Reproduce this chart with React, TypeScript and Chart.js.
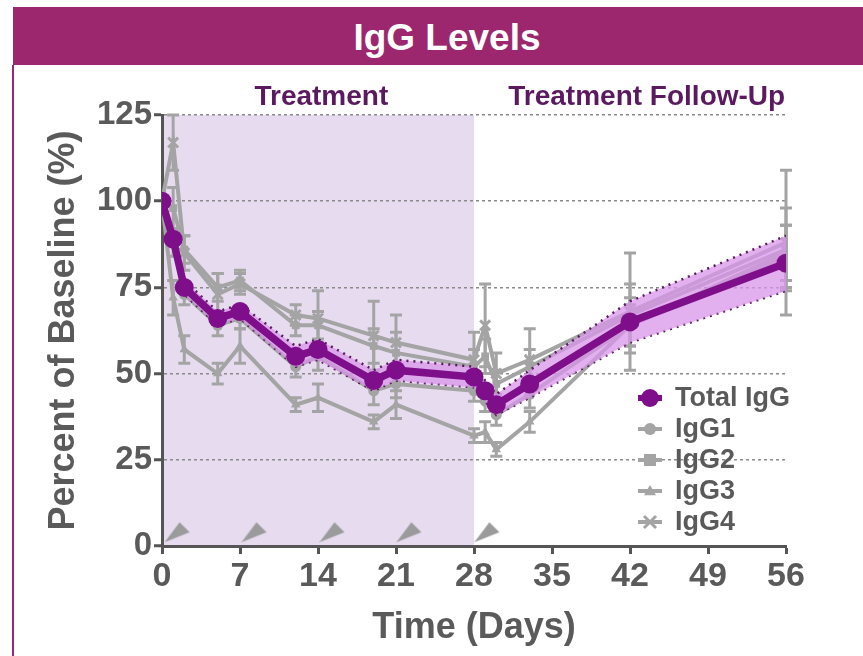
import React, { useEffect, useRef } from "react";
import { Chart, registerables } from "chart.js";
Chart.register(...registerables);

// ---------- data ----------
const days = [0, 1, 2, 5, 7, 12, 14, 19, 21, 28, 29, 30, 33, 42, 56];
const totalIgG = [100, 89, 75, 66, 68, 55, 57, 48, 51, 49, 45, 41, 47, 65, 82];
const totalErr = [0, 2, 2, 2, 2, 3, 3, 3, 3, 3, 3, 3, 4, 6, 8];
const igg1 = [100, 88, 73, 64, 66, 52, 55, 45, 47, 45, 42, 38, 44, 64, 84];
const igg1Err = [0, 4, 3, 3, 3, 3, 4, 4, 4, 3, 3, 3, 4, 8, 9];
const igg2 = [100, 98, 86, 75, 77, 64, 64, 58, 56, 52, 55, 47, 52, 67, 86];
const igg2Err = [0, 6, 4, 4, 3, 3, 4, 5, 6, 5, 5, 4, 5, 9, 12];
const igg3 = [100, 72, 57, 50, 58, 41, 43, 36, 41, 32, 33, 28, 36, 64, 85];
const igg3Err = [0, 5, 4, 3, 5, 2, 4, 2, 4, 2, 3, 2, 3, 6, 8];
const igg4 = [100, 117, 85, 73, 76, 67, 66, 61, 59, 54, 64, 50, 54, 68, 88];
const igg4Err = [0, 8, 5, 6, 3, 3, 8, 10, 8, 8, 12, 6, 9, 17, 21];
const doseDays = [1.4, 8.3, 15.3, 22.2, 29.2];
const doseLevel = 4;
const treatmentStart = 0;
const treatmentEnd = 28;
const xTickStep = 7;
const yTickStep = 25;
const xMin = 0, xMax = 56, yMin = 0, yMax = 125;
const legendLabels = ["Total IgG", "IgG1", "IgG2", "IgG3", "IgG4"];
const phaseLabels = ["Treatment", "Treatment Follow-Up"];
const phaseLabelDays = [14.3, 43.5];

// ---------- styles ----------
const FONT = "'Liberation Sans', Arial, Helvetica, sans-serif";
const GREY = "#a4a4a4";
const PURPLE = "#7e0e89";
const DARKPURPLE = "#5b1a60";
const TEXT = "#5a5a5a";
const BANNER = "#9c276f";

const pts = (ys: number[]) => ys.map((y, i) => ({ x: days[i], y }));

function makeArrowHead(): HTMLCanvasElement {
  const c = document.createElement("canvas");
  c.width = 26;
  c.height = 22;
  const g = c.getContext("2d")!;
  g.fillStyle = "#9b9b9b";
  g.beginPath();
  g.moveTo(0, 21);
  g.lineTo(15, 1);
  g.lineTo(25, 11);
  g.closePath();
  g.fill();
  return c;
}

const shadePlugin = {
  id: "shade",
  beforeDraw(chart: any) {
    const { ctx, scales } = chart;
    const x = scales.x, y = scales.y;
    const x0 = x.getPixelForValue(treatmentStart), x1 = x.getPixelForValue(treatmentEnd);
    const y0 = y.getPixelForValue(yMax), y1 = y.getPixelForValue(yMin);
    ctx.save();
    ctx.fillStyle = "#e7dcef";
    ctx.fillRect(x0, y0, x1 - x0, y1 - y0);
    ctx.restore();
  },
};

const errorBarPlugin = {
  id: "errbars",
  afterDatasetDraw(chart: any, args: any) {
    const ds: any = chart.data.datasets[args.index];
    const errs: number[] | undefined = ds.errors;
    if (!errs) return;
    const { ctx } = chart;
    const y = chart.scales.y;
    ctx.save();
    ctx.strokeStyle = ds.borderColor;
    ctx.lineWidth = 3;
    args.meta.data.forEach((pt: any, i: number) => {
      const e = errs[i];
      if (!e) return;
      const v = ds.data[i].y;
      const px = pt.x;
      const top = y.getPixelForValue(v + e);
      const bot = y.getPixelForValue(v - e);
      ctx.beginPath();
      ctx.moveTo(px, top); ctx.lineTo(px, bot);
      ctx.moveTo(px - 6, top); ctx.lineTo(px + 6, top);
      ctx.moveTo(px - 6, bot); ctx.lineTo(px + 6, bot);
      ctx.stroke();
    });
    ctx.restore();
  },
};

const labelsPlugin = {
  id: "labels",
  afterDraw(chart: any) {
    const { ctx, chartArea, scales } = chart;
    ctx.save();
    ctx.font = `bold 28px ${FONT}`;
    ctx.fillStyle = DARKPURPLE;
    ctx.textAlign = "center";
    ctx.textBaseline = "middle";
    phaseLabels.forEach((t, i) => {
      ctx.fillText(t, scales.x.getPixelForValue(phaseLabelDays[i]), chartArea.top - 18);
    });
    // legend
    const mx = chartArea.left + 488;
    const styles = ["circle", "circle", "rect", "triangle", "crossRot"];
    legendLabels.forEach((t, i) => {
      const cy = chartArea.top + 283 + i * 31;
      const isTotal = i === 0;
      ctx.strokeStyle = isTotal ? PURPLE : GREY;
      ctx.fillStyle = isTotal ? PURPLE : GREY;
      ctx.lineWidth = isTotal ? 6 : 4;
      ctx.beginPath();
      ctx.moveTo(mx - 12, cy); ctx.lineTo(mx + 12, cy);
      ctx.stroke();
      const r = isTotal ? 9 : 6;
      ctx.beginPath();
      if (styles[i] === "circle") {
        ctx.arc(mx, cy, r, 0, Math.PI * 2); ctx.fill();
      } else if (styles[i] === "rect") {
        ctx.fillRect(mx - r, cy - r, 2 * r, 2 * r);
      } else if (styles[i] === "triangle") {
        ctx.moveTo(mx, cy - r); ctx.lineTo(mx + r, cy + r * 0.7); ctx.lineTo(mx - r, cy + r * 0.7); ctx.closePath(); ctx.fill();
      } else {
        ctx.lineWidth = 3;
        ctx.moveTo(mx - r, cy - r); ctx.lineTo(mx + r, cy + r);
        ctx.moveTo(mx + r, cy - r); ctx.lineTo(mx - r, cy + r); ctx.stroke();
      }
      ctx.font = `bold 27px ${FONT}`;
      ctx.fillStyle = TEXT;
      ctx.textAlign = "left";
      ctx.fillText(t, mx + 25, cy + 1);
    });
    ctx.restore();
  },
};

function greyDs(label: string, data: number[], errors: number[], style: string, order: number) {
  return {
    label,
    data: pts(data),
    errors,
    borderColor: GREY,
    backgroundColor: GREY,
    borderWidth: 4,
    pointStyle: style,
    pointRadius: style === "crossRot" ? 7 : 5.5,
    pointBackgroundColor: GREY,
    pointBorderColor: GREY,
    pointBorderWidth: style === "crossRot" ? 3 : 0,
    tension: 0,
    fill: false,
    order,
  } as any;
}

export default function App() {
  const ref = useRef<HTMLCanvasElement>(null);
  useEffect(() => {
    if (!ref.current) return;
    const arrow = makeArrowHead();
    const chart = new Chart(ref.current, {
      type: "line",
      data: {
        datasets: [
          {
            label: "Total IgG",
            data: pts(totalIgG),
            borderColor: PURPLE,
            backgroundColor: PURPLE,
            borderWidth: 7.5,
            pointRadius: 9.5,
            pointBackgroundColor: PURPLE,
            pointBorderWidth: 0,
            tension: 0,
            fill: false,
            order: 0,
          },
          {
            label: "upper",
            data: pts(totalIgG.map((v, i) => v + totalErr[i])),
            borderColor: DARKPURPLE,
            borderDash: [2, 5],
            borderWidth: 2.5,
            pointRadius: 0,
            tension: 0,
            fill: "+1",
            backgroundColor: "rgba(216,150,234,0.75)",
            order: 1,
          },
          {
            label: "lower",
            data: pts(totalIgG.map((v, i) => v - totalErr[i])),
            borderColor: DARKPURPLE,
            borderDash: [2, 5],
            borderWidth: 2.5,
            pointRadius: 0,
            tension: 0,
            fill: false,
            order: 1,
          },
          greyDs("IgG1", igg1, igg1Err, "circle", 2),
          greyDs("IgG2", igg2, igg2Err, "rect", 3),
          greyDs("IgG3", igg3, igg3Err, "triangle", 4),
          greyDs("IgG4", igg4, igg4Err, "crossRot", 5),
          {
            label: "dose",
            data: doseDays.map((d) => ({ x: d, y: doseLevel })),
            showLine: false,
            pointStyle: arrow,
            pointRadius: 10,
            order: 6,
          } as any,
        ],
      },
      options: {
        animation: false,
        responsive: false,
        devicePixelRatio: 1,
        layout: { padding: { top: 49, right: 77, left: 0, bottom: 0 } },
        plugins: { legend: { display: false }, tooltip: { enabled: false } },
        scales: {
          x: {
            type: "linear",
            min: xMin,
            max: xMax,
            ticks: { stepSize: xTickStep, color: TEXT, font: { family: FONT, size: 34, weight: "bold" }, padding: 2 },
            grid: { drawOnChartArea: false, drawTicks: true, tickLength: 8, tickColor: "#555", tickWidth: 3 },
            border: { color: "#555", width: 3 },
            title: { display: true, text: "Time (Days)", color: TEXT, font: { family: FONT, size: 36, weight: "bold" }, padding: { top: 0, bottom: 0 } },
            afterFit(scale: any) { scale.height = 104; },
          },
          y: {
            type: "linear",
            min: yMin,
            max: yMax,
            ticks: { stepSize: yTickStep, color: TEXT, font: { family: FONT, size: 33, weight: "bold" }, padding: 2 },
            grid: { drawOnChartArea: true, color: "#8a8a8a", lineWidth: 1.5, drawTicks: true, tickLength: 8, tickColor: "#555", tickWidth: 3, tickBorderDash: [] },
            border: { color: "#555", width: 3, dash: [3, 3] },
            title: { display: true, text: "Percent of Baseline (%)", color: TEXT, font: { family: FONT, size: 36, weight: "bold" }, padding: { top: 29, bottom: 0 } },
            afterFit(scale: any) { scale.width = 149; },
          },
        },
      } as any,
      plugins: [shadePlugin, errorBarPlugin, labelsPlugin],
    });
    return () => chart.destroy();
  }, []);

  return (
    <div style={{ position: "absolute", left: 0, top: 0, width: 863, height: 656, background: "#fff", overflow: "hidden" }}>
      <div
        style={{
          position: "absolute", left: 13, top: 7, width: 850, height: 58, background: BANNER,
          color: "#fff", fontFamily: FONT, fontWeight: "bold", fontSize: 37,
          display: "flex", alignItems: "center", justifyContent: "center", paddingLeft: 18, boxSizing: "border-box", paddingTop: 4,
        }}
      >
        IgG Levels
      </div>
      <div style={{ position: "absolute", left: 12, top: 65, width: 2, height: 591, background: BANNER }} />
      <canvas ref={ref} width={850} height={584} style={{ position: "absolute", left: 13, top: 66, width: 850, height: 584 }} />
    </div>
  );
}
